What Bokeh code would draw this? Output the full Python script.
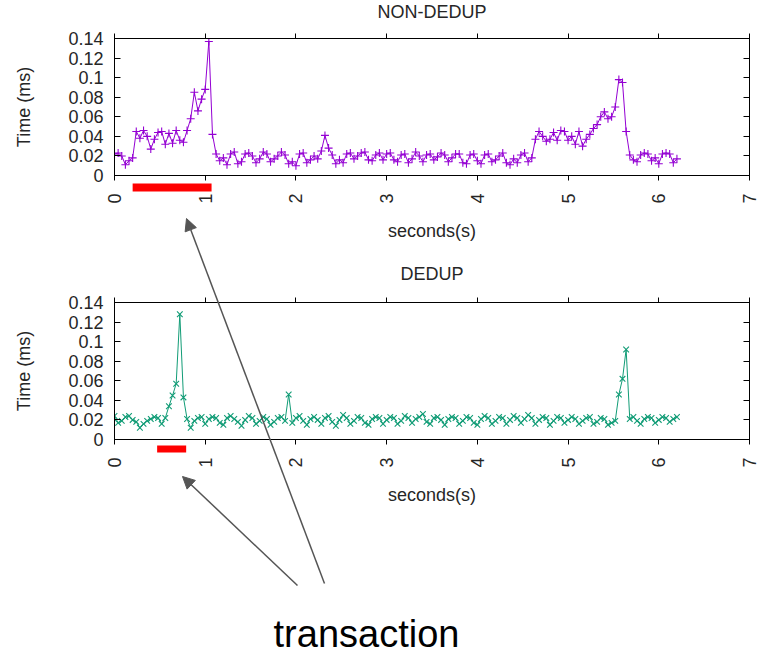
import math
from bokeh.plotting import figure
from bokeh.models import (LinearAxis, FixedTicker, CustomJSTickFormatter, Range1d,
                          Arrow, NormalHead)
from bokeh.layouts import column
from bokeh.embed import file_html
from bokeh.resources import INLINE

# ---------------- data ----------------
STEP = 0.04  # sampling interval (s)

non_dedup = [
    0.022, 0.023, 0.020, 0.011, 0.015, 0.018, 0.045, 0.038, 0.046, 0.040,
    0.027, 0.037, 0.044, 0.045, 0.032, 0.043, 0.033, 0.046, 0.036, 0.034,
    0.046, 0.058, 0.085, 0.066, 0.078, 0.088, 0.137, 0.042, 0.022, 0.015,
    0.018, 0.011, 0.022, 0.024, 0.012, 0.014, 0.022, 0.023, 0.020, 0.013,
    0.017, 0.024, 0.022, 0.014, 0.017, 0.020, 0.024, 0.021, 0.012, 0.014,
    0.010, 0.022, 0.023, 0.013, 0.016, 0.020, 0.017, 0.025, 0.041, 0.028,
    0.021, 0.012, 0.016, 0.013, 0.022, 0.023, 0.017, 0.020, 0.023, 0.024,
    0.016, 0.015, 0.021, 0.023, 0.016, 0.022, 0.023, 0.016, 0.014, 0.021,
    0.022, 0.013, 0.017, 0.024, 0.020, 0.014, 0.021, 0.022, 0.016, 0.019,
    0.023, 0.021, 0.014, 0.018, 0.022, 0.022, 0.013, 0.012, 0.021, 0.022,
    0.015, 0.012, 0.021, 0.022, 0.014, 0.016, 0.020, 0.023, 0.013, 0.011,
    0.017, 0.013, 0.021, 0.023, 0.014, 0.018, 0.037, 0.045, 0.040, 0.035,
    0.037, 0.044, 0.036, 0.046, 0.045, 0.036, 0.040, 0.032, 0.045, 0.030,
    0.037, 0.042, 0.048, 0.052, 0.060, 0.065, 0.058, 0.060, 0.070, 0.098,
    0.095, 0.045, 0.021, 0.016, 0.014, 0.021, 0.023, 0.022, 0.015, 0.018,
    0.012, 0.022, 0.023, 0.022, 0.013, 0.017,
]

dedup = [
    0.024, 0.017, 0.019, 0.023, 0.024, 0.020, 0.018, 0.012, 0.016, 0.019,
    0.021, 0.023, 0.022, 0.016, 0.022, 0.034, 0.045, 0.057, 0.128, 0.043,
    0.021, 0.012, 0.019, 0.022, 0.023, 0.016, 0.021, 0.023, 0.022, 0.017,
    0.015, 0.022, 0.024, 0.021, 0.018, 0.014, 0.020, 0.024, 0.022, 0.016,
    0.019, 0.023, 0.021, 0.015, 0.018, 0.022, 0.023, 0.019, 0.046, 0.017,
    0.022, 0.024, 0.019, 0.015, 0.021, 0.023, 0.020, 0.016, 0.022, 0.024,
    0.018, 0.014, 0.020, 0.025, 0.022, 0.016, 0.019, 0.023, 0.022, 0.017,
    0.015, 0.021, 0.023, 0.022, 0.016, 0.020, 0.023, 0.022, 0.016, 0.019,
    0.024, 0.022, 0.017, 0.021, 0.023, 0.026, 0.018, 0.016, 0.022, 0.023,
    0.020, 0.015, 0.021, 0.023, 0.022, 0.016, 0.019, 0.023, 0.022, 0.017,
    0.015, 0.021, 0.024, 0.022, 0.016, 0.019, 0.023, 0.022, 0.016, 0.020,
    0.024, 0.022, 0.017, 0.021, 0.025, 0.022, 0.016, 0.020, 0.023, 0.022,
    0.015, 0.019, 0.023, 0.022, 0.017, 0.020, 0.023, 0.021, 0.016, 0.019,
    0.022, 0.023, 0.016, 0.018, 0.022, 0.021, 0.015, 0.017, 0.019, 0.046,
    0.062, 0.092, 0.021, 0.023, 0.019, 0.016, 0.021, 0.023, 0.022, 0.017,
    0.020, 0.023, 0.022, 0.018, 0.021, 0.023,
]

t_non_dedup = [round(i * STEP, 2) for i in range(len(non_dedup))]
t_dedup = [round(i * STEP, 2) for i in range(len(dedup))]

x_ticks = [0, 1, 2, 3, 4, 5, 6, 7]
y_ticks = [0, 0.02, 0.04, 0.06, 0.08, 0.10, 0.12, 0.14]

titles = ["NON-DEDUP", "DEDUP"]
note_text = "transaction"

# transaction intervals (seconds) marked by red bars
txn_non_dedup = [0.20, 1.07]
txn_dedup = [0.47, 0.79]

# ---------------- layout (page pixels) ----------------
W = 759
LEFT, RIGHT = 114, 10
FRAME_W = W - LEFT - RIGHT          # 635
FRAME_H = 137
H_TOP, H_BOT = 260, 394
TOP_FIG = dict(top=38, bottom=H_TOP - 38 - FRAME_H)
BOT_FIG = dict(top=42, bottom=H_BOT - 42 - FRAME_H)
H_ALL = H_TOP + H_BOT

FONT = "Liberation Sans"
TXT = "#262626"
PURPLE = "#9400d3"
GREEN = "#119c76"
ARROW_C = "#555555"


def make_panel(xs, ys, color, marker, height, borders):
    p = figure(width=W, height=height,
               x_range=Range1d(0, 7), y_range=Range1d(0, 0.14),
               output_backend="svg", toolbar_location=None,
               min_border_left=LEFT, min_border_right=RIGHT,
               min_border_top=borders["top"], min_border_bottom=borders["bottom"])
    p.grid.visible = False
    p.outline_line_color = "black"
    p.outline_line_width = 1
    p.background_fill_color = "white"
    p.border_fill_color = "white"

    xa = p.xaxis[0]
    xa.ticker = FixedTicker(ticks=x_ticks)
    xa.major_label_orientation = math.pi / 2
    xa.major_tick_out = 5
    xa.major_tick_in = 0
    xa.minor_tick_out = 0
    xa.minor_tick_in = 0
    xa.major_label_standoff = 13
    xa.axis_label = "seconds(s)"
    xa.axis_label_standoff = 14

    ya = p.yaxis[0]
    ya.ticker = FixedTicker(ticks=y_ticks)
    ya.formatter = CustomJSTickFormatter(
        code="return tick.toFixed(2).replace(/0+$/, '').replace(/\\.$/, '');")
    ya.major_tick_out = 0
    ya.major_tick_in = 6
    ya.minor_tick_out = 0
    ya.minor_tick_in = 0
    ya.major_label_standoff = 11
    ya.axis_label = "Time (ms)"
    ya.axis_label_standoff = 31

    for ax in (xa, ya):
        ax.axis_line_color = "black"
        ax.major_tick_line_color = "black"
        ax.major_label_text_font = FONT
        ax.major_label_text_font_size = "18px"
        ax.major_label_text_color = TXT
        ax.axis_label_text_font = FONT
        ax.axis_label_text_font_size = "18px"
        ax.axis_label_text_font_style = "normal"
        ax.axis_label_text_color = TXT

    blank = CustomJSTickFormatter(code="return '';")
    top_ax = LinearAxis(ticker=FixedTicker(ticks=x_ticks), formatter=blank,
                        major_tick_out=5, major_tick_in=0,
                        minor_tick_out=0, minor_tick_in=0,
                        major_label_standoff=0, axis_line_color="black",
                        major_label_text_font_size="1px")
    right_ax = LinearAxis(ticker=FixedTicker(ticks=y_ticks), formatter=blank,
                          major_tick_out=0, major_tick_in=6,
                          minor_tick_out=0, minor_tick_in=0,
                          major_label_standoff=0, axis_line_color="black",
                          major_label_text_font_size="1px")
    p.add_layout(top_ax, "above")
    p.add_layout(right_ax, "right")

    p.line(xs, ys, line_color=color, line_width=1)
    p.scatter(xs, ys, marker=marker, size=8, line_color=color, line_width=1.1)
    return p


top = make_panel(t_non_dedup, non_dedup, PURPLE, "cross", H_TOP, TOP_FIG)
bot = make_panel(t_dedup, dedup, GREEN, "x", H_BOT, BOT_FIG)

# ---------------- transparent overlay for the annotations ----------------
# x: seconds, aligned with both panels' x axes; y: page pixels (0 at top)
sec_per_px = 7 / FRAME_W
ov = figure(width=W, height=H_ALL,
            x_range=Range1d(0, 7), y_range=Range1d(H_ALL, 0),
            x_axis_type=None, y_axis_type=None,
            output_backend="svg", toolbar_location=None,
            min_border_left=LEFT, min_border_right=RIGHT,
            min_border_top=0, min_border_bottom=0,
            margin=(-H_ALL, 0, 0, 0))
ov.grid.visible = False
ov.outline_line_color = None
ov.background_fill_alpha = 0
ov.border_fill_alpha = 0


def px2s(px):
    return (px - LEFT) * sec_per_px


top_frame_top = TOP_FIG["top"]
bot_frame_top = H_TOP + BOT_FIG["top"]
frame_mid_x = 3.5

# titles
ov.text(x=[frame_mid_x, frame_mid_x], y=[top_frame_top - 27, bot_frame_top - 29],
        text=titles, text_align="center", text_baseline="middle",
        text_font={"value": FONT}, text_font_size="18px", text_color=TXT)

# red transaction bars just below each x axis
ov.quad(left=[txn_non_dedup[0], txn_dedup[0]],
        right=[txn_non_dedup[1], txn_dedup[1]],
        top=[top_frame_top + FRAME_H + 8, bot_frame_top + FRAME_H + 6],
        bottom=[top_frame_top + FRAME_H + 16, bot_frame_top + FRAME_H + 13],
        fill_color="red", line_color=None)

# arrows (page pixels)
arrows = [((324, 583), (186, 218)), ((297, 585), (182, 476))]
for (x0, y0), (x1, y1) in arrows:
    ov.add_layout(Arrow(x_start=px2s(x0), y_start=y0, x_end=px2s(x1), y_end=y1,
                        end=NormalHead(size=12, fill_color=ARROW_C,
                                       line_color=ARROW_C),
                        line_color=ARROW_C, line_width=1.5))

ov.text(x=[px2s(366)], y=[633], text=[note_text], text_align="center",
        text_baseline="middle", text_font={"value": FONT},
        text_font_size="38px", text_color="black")

layout = column(top, bot, ov, spacing=0)
open("out.html", "w").write(file_html(layout, INLINE))
